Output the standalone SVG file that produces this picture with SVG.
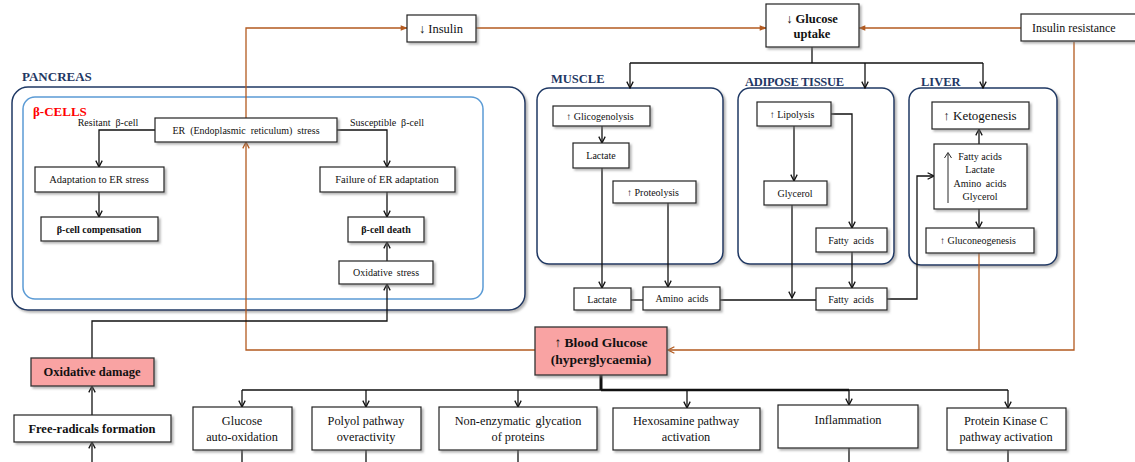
<svg xmlns="http://www.w3.org/2000/svg" width="1135" height="462" viewBox="0 0 1135 462">
<style>
text{font-family:"Liberation Serif","Times New Roman",serif;fill:#111}
.b{fill:#fff;stroke:#222;stroke-width:1.2;filter:url(#sh)}
.pk{fill:#F9A3A3;stroke:#333;stroke-width:1.3;filter:url(#sh)}
.c{stroke:#111;stroke-width:1.3;fill:none}
.o{stroke:#B35A1F;stroke-width:1.3;fill:none}
.reg{fill:#fff;stroke:#1F3864;stroke-width:1.5;filter:url(#sh)}
.lbl{font-weight:bold;fill:#1F3864;font-size:12.5px}
.s{font-size:10px;text-anchor:middle}
.m{font-size:12.3px;text-anchor:middle}
.bd{font-weight:bold}
</style>
<defs>
<filter id="sh" x="-10%" y="-10%" width="125%" height="135%"><feDropShadow dx="2" dy="2" stdDeviation="1.2" flood-color="#777" flood-opacity="0.55"/></filter>
<marker id="a" viewBox="0 0 10 10" refX="9" refY="5" markerWidth="8" markerHeight="8" markerUnits="userSpaceOnUse" orient="auto"><path d="M1,1 L9,5 L1,9" fill="none" stroke="#111" stroke-width="1.6"/></marker>
<marker id="ao" viewBox="0 0 10 10" refX="9" refY="5" markerWidth="8" markerHeight="8" markerUnits="userSpaceOnUse" orient="auto"><path d="M1,1 L9,5 L1,9" fill="none" stroke="#B35A1F" stroke-width="1.6"/></marker>
<marker id="af" viewBox="0 0 10 10" refX="9" refY="5" markerWidth="8" markerHeight="7" markerUnits="userSpaceOnUse" orient="auto"><path d="M0,1 L10,5 L0,9 Z" fill="#B35A1F"/></marker>
</defs>

<!-- region containers -->
<g id="pancreas">
<text x="22" y="81" class="lbl" style="font-size:13px">PANCREAS</text>
<rect x="12" y="87" width="513" height="223" rx="16" class="reg"/>
<rect x="23" y="97" width="460" height="202" rx="12" fill="#fff" stroke="#5B9BD5" stroke-width="1.5"/>
<text x="33" y="116" style="font-size:13px;font-weight:bold;fill:#FF0000">β-CELLS</text>
</g>
<g id="muscle">
<text x="551" y="83" class="lbl">MUSCLE</text>
<rect x="537" y="88" width="186" height="176" rx="12" class="reg"/>
</g>
<g id="adipose">
<text x="745" y="86" class="lbl" style="letter-spacing:-0.3px">ADIPOSE TISSUE</text>
<rect x="738" y="88" width="156" height="176" rx="12" class="reg"/>
</g>
<g id="liver">
<text x="921" y="86" class="lbl">LIVER</text>
<rect x="909" y="88" width="148" height="177" rx="12" class="reg"/>
</g>

<!-- connectors -->
<g id="connectors">
<!-- orange -->
<polyline class="o" points="246,118 246,28 407,28" marker-end="url(#af)"/>
<line class="o" x1="476" y1="28" x2="766" y2="28" marker-end="url(#af)"/>
<line class="o" x1="1021" y1="28" x2="859" y2="28" marker-end="url(#af)"/>
<polyline class="o" points="535,350 246,350 246,142" marker-end="url(#ao)"/>
<polyline class="o" points="1074,42 1074,350 668,350" marker-end="url(#ao)"/>
<line class="o" x1="979" y1="253" x2="979" y2="350"/>
<!-- glucose uptake distribution -->
<line class="c" x1="812" y1="47" x2="812" y2="63"/>
<line class="c" x1="630" y1="63" x2="983" y2="63"/>
<line class="c" x1="630" y1="63" x2="630" y2="88" marker-end="url(#a)"/>
<line class="c" x1="865" y1="63" x2="865" y2="88" marker-end="url(#a)"/>
<line class="c" x1="983" y1="63" x2="983" y2="88" marker-end="url(#a)"/>
<!-- pancreas -->
<polyline class="c" points="155,130 99,130 99,167" marker-end="url(#a)"/>
<line class="c" x1="99" y1="192" x2="99" y2="217" marker-end="url(#a)"/>
<polyline class="c" points="337,130 387,130 387,167" marker-end="url(#a)"/>
<line class="c" x1="387" y1="192" x2="387" y2="217" marker-end="url(#a)"/>
<line class="c" x1="387" y1="261" x2="387" y2="242" marker-end="url(#a)"/>
<polyline class="c" points="92,358 92,321 387,321 387,284" marker-end="url(#a)"/>
<line class="c" x1="92" y1="415" x2="92" y2="386" marker-end="url(#a)"/>
<line class="c" x1="92" y1="462" x2="92" y2="442" marker-end="url(#a)"/>
<!-- muscle -->
<line class="c" x1="602" y1="126" x2="602" y2="143" marker-end="url(#a)"/>
<line class="c" x1="602" y1="168" x2="602" y2="288" marker-end="url(#a)"/>
<line class="c" x1="668" y1="203" x2="668" y2="287" marker-end="url(#a)"/>
<line class="c" x1="631" y1="300" x2="643" y2="300"/>
<line class="c" x1="720" y1="300" x2="817" y2="300"/>
<!-- adipose -->
<line class="c" x1="794" y1="126" x2="794" y2="181" marker-end="url(#a)"/>
<polyline class="c" points="831,114 852,114 852,228" marker-end="url(#a)"/>
<line class="c" x1="852" y1="252" x2="852" y2="288" marker-end="url(#a)"/>
<line class="c" x1="792" y1="205" x2="792" y2="298" marker-end="url(#a)"/>
<polyline class="c" points="887,299 917,299 917,176 934,176" marker-end="url(#a)"/>
<!-- liver -->
<line class="c" x1="979" y1="144" x2="979" y2="129" marker-end="url(#a)"/>
<line class="c" x1="979" y1="209" x2="979" y2="228" marker-end="url(#a)"/>
<!-- blood glucose outputs -->
<line x1="601" y1="375" x2="601" y2="390" stroke="#111" stroke-width="3"/>
<line x1="601" y1="390" x2="849" y2="390" stroke="#111" stroke-width="2.4"/>
<line class="c" x1="242" y1="390" x2="601" y2="390"/>
<line class="c" x1="849" y1="390" x2="1008" y2="390"/>
<line class="c" x1="242" y1="390" x2="242" y2="407" marker-end="url(#a)"/>
<line class="c" x1="366" y1="390" x2="366" y2="407" marker-end="url(#a)"/>
<line class="c" x1="518" y1="390" x2="518" y2="407" marker-end="url(#a)"/>
<line class="c" x1="687" y1="390" x2="687" y2="408" marker-end="url(#a)"/>
<line class="c" x1="849" y1="390" x2="849" y2="405" marker-end="url(#a)"/>
<line class="c" x1="1008" y1="390" x2="1008" y2="408" marker-end="url(#a)"/>
<line class="c" x1="242" y1="450" x2="242" y2="462"/>
<line class="c" x1="366" y1="450" x2="366" y2="462"/>
<line class="c" x1="518" y1="450" x2="518" y2="462"/>
<line class="c" x1="849" y1="448" x2="849" y2="462"/>
<line class="c" x1="1008" y1="450" x2="1008" y2="462"/>
</g>

<!-- top nodes -->
<g id="insulin"><rect x="407" y="15" width="69" height="27" class="b"/><text x="441" y="33" class="m" style="font-size:12.5px">↓ Insulin</text></g>
<g id="glucose-uptake"><rect x="766" y="4" width="93" height="43" class="b"/><text x="812" y="23" class="m bd" style="font-size:12.5px">↓ Glucose</text><text x="812" y="38" class="m bd" style="font-size:12.5px">uptake</text></g>
<g id="insulin-resistance"><rect x="1021" y="14" width="120" height="27" class="b"/><text x="1032" y="32" style="font-size:12px">Insulin resistance</text></g>

<!-- pancreas nodes -->
<g id="er-stress"><rect x="155" y="118" width="182" height="24" class="b"/><text x="246" y="134" class="s" style="word-spacing:2.5px">ER (Endoplasmic reticulum) stress</text></g>
<g id="resistant-label"><text x="108" y="126" class="s" style="word-spacing:2.5px">Resitant β-cell</text></g>
<g id="susceptible-label"><text x="387" y="126" class="s" style="word-spacing:2.5px">Susceptible β-cell</text></g>
<g id="adaptation"><rect x="35" y="167" width="129" height="25" class="b"/><text x="99" y="183" class="s" style="font-size:10.5px">Adaptation to ER stress</text></g>
<g id="compensation"><rect x="41" y="217" width="117" height="24" class="b"/><text x="99" y="233" class="s bd">β-cell compensation</text></g>
<g id="failure"><rect x="320" y="167" width="135" height="25" class="b"/><text x="387" y="183" class="s" style="font-size:10.5px">Failure of ER adaptation</text></g>
<g id="death"><rect x="348" y="217" width="76" height="25" class="b"/><text x="386" y="233" class="s bd">β-cell death</text></g>
<g id="oxidative-stress"><rect x="339" y="261" width="94" height="23" class="b"/><text x="386" y="276" class="s" style="word-spacing:2px">Oxidative stress</text></g>

<!-- muscle nodes -->
<g id="glicogenolysis"><rect x="553" y="106" width="97" height="20" class="b"/><text x="600" y="120" class="s">↑ Glicogenolysis</text></g>
<g id="lactate-m"><rect x="573" y="143" width="56" height="25" class="b"/><text x="601" y="159" class="s">Lactate</text></g>
<g id="proteolysis"><rect x="613" y="181" width="83" height="22" class="b"/><text x="653" y="196" class="s">↑ Proteolysis</text></g>
<g id="lactate"><rect x="574" y="288" width="57" height="22" class="b"/><text x="602" y="303" class="s">Lactate</text></g>
<g id="amino-acids"><rect x="643" y="287" width="77" height="23" class="b"/><text x="682" y="302" class="s" style="word-spacing:2px">Amino acids</text></g>

<!-- adipose nodes -->
<g id="lipolysis"><rect x="757" y="102" width="74" height="24" class="b"/><text x="792" y="118" class="s">↑ Lipolysis</text></g>
<g id="glycerol"><rect x="764" y="181" width="63" height="24" class="b"/><text x="795" y="197" class="s">Glycerol</text></g>
<g id="fatty-acids-a"><rect x="816" y="228" width="71" height="24" class="b"/><text x="851" y="244" class="s" style="word-spacing:2px">Fatty acids</text></g>
<g id="fatty-acids"><rect x="816" y="288" width="71" height="22" class="b"/><text x="851" y="303" class="s" style="word-spacing:2px">Fatty acids</text></g>

<!-- liver nodes -->
<g id="ketogenesis"><rect x="932" y="102" width="97" height="27" class="b"/><text x="980" y="120" class="m" style="font-size:13px">↑ Ketogenesis</text></g>
<g id="substrates"><rect x="934" y="144" width="93" height="65" class="b"/>
<line x1="948" y1="203" x2="948" y2="154" stroke="#111" stroke-width="0.9"/>
<polyline points="944.5,158 948,152.5 951.5,158" fill="none" stroke="#111" stroke-width="0.9"/>
<text x="980" y="160" class="s">Fatty acids</text><text x="980" y="173" class="s">Lactate</text><text x="980" y="187" class="s" style="word-spacing:2px">Amino acids</text><text x="980" y="200" class="s">Glycerol</text></g>
<g id="gluconeogenesis"><rect x="926" y="228" width="108" height="25" class="b"/><text x="978" y="244" class="s">↑ Gluconeogenesis</text></g>

<!-- left column -->
<g id="oxidative-damage"><rect x="31" y="358" width="123" height="28" class="pk"/><text x="92" y="376" class="m bd" style="font-size:12.5px">Oxidative damage</text></g>
<g id="free-radicals"><rect x="14" y="415" width="157" height="27" class="b"/><text x="92" y="433" class="m bd" style="font-size:12.5px">Free-radicals formation</text></g>

<!-- blood glucose -->
<g id="blood-glucose"><rect x="535" y="327" width="132" height="48" class="pk"/><text x="601" y="347" class="m bd" style="font-size:13.5px">↑ Blood Glucose</text><text x="601" y="364" class="m bd" style="font-size:13.5px">(hyperglycaemia)</text></g>

<!-- bottom nodes -->
<g id="auto-oxidation"><rect x="193" y="407" width="99" height="43" class="b"/><text x="242" y="425" class="m">Glucose</text><text x="242" y="441" class="m">auto-oxidation</text></g>
<g id="polyol"><rect x="312" y="407" width="109" height="43" class="b"/><text x="366" y="425" class="m">Polyol pathway</text><text x="366" y="441" class="m">overactivity</text></g>
<g id="glycation"><rect x="439" y="407" width="158" height="43" class="b"/><text x="518" y="425" class="m" style="word-spacing:2px">Non-enzymatic glycation</text><text x="518" y="441" class="m">of proteins</text></g>
<g id="hexosamine"><rect x="613" y="408" width="147" height="42" class="b"/><text x="686" y="425" class="m">Hexosamine pathway</text><text x="686" y="441" class="m">activation</text></g>
<g id="inflammation"><rect x="778" y="405" width="140" height="43" class="b"/><text x="848" y="424" class="m">Inflammation</text></g>
<g id="pkc"><rect x="947" y="408" width="119" height="42" class="b"/><text x="1006" y="425" class="m">Protein Kinase C</text><text x="1006" y="441" class="m">pathway activation</text></g>
</svg>
